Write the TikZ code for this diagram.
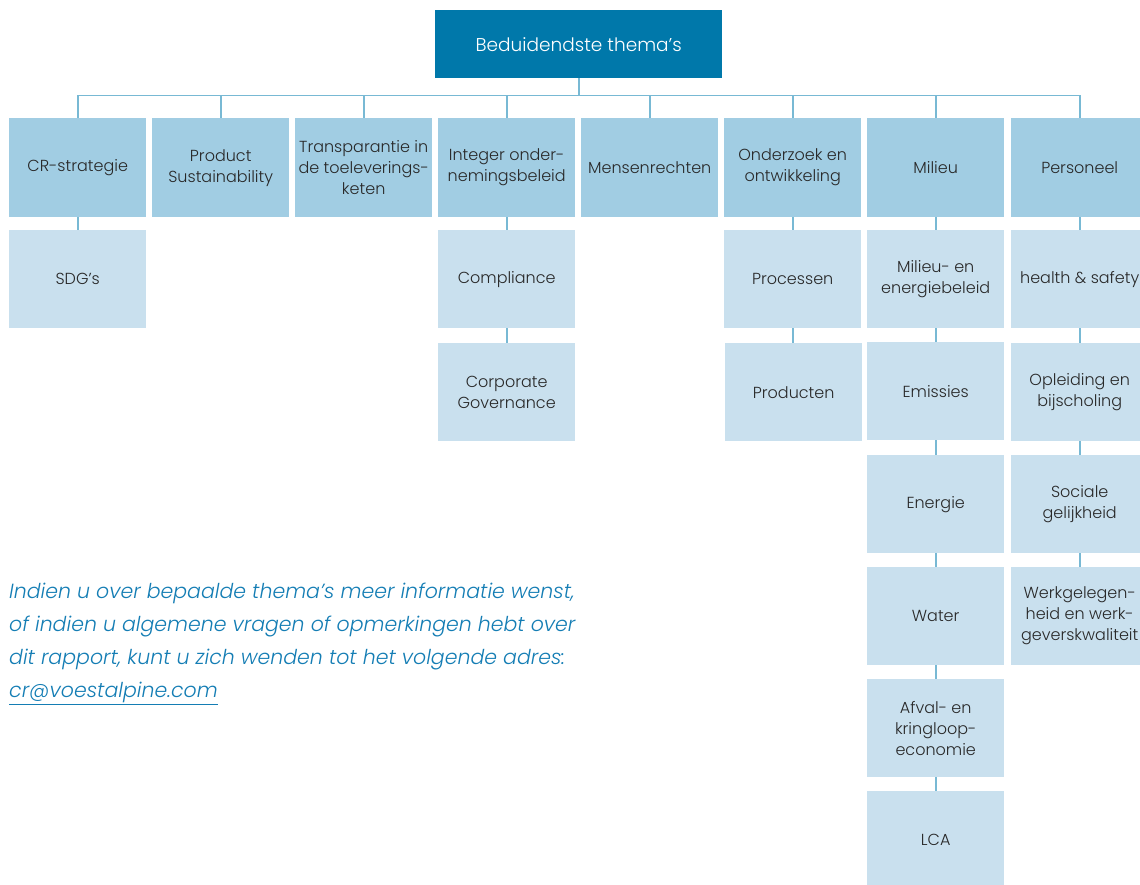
\documentclass[tikz,border=0pt]{standalone}
\usepackage{fontspec}
\setmainfont{Poppins}[UprightFont=* Light, ItalicFont=* Light Italic]
\definecolor{topblue}{RGB}{0,120,170}
\definecolor{lvla}{RGB}{161,205,227}
\definecolor{lvlb}{RGB}{201,224,238}
\definecolor{linec}{RGB}{120,185,212}
\definecolor{txt}{RGB}{40,40,40}
\definecolor{note}{RGB}{20,125,180}
\begin{document}
\begin{tikzpicture}[x=1pt,y=-1pt,
  topbox/.style={fill=topblue,text=white,minimum width=287pt,minimum height=68pt,inner sep=0pt,anchor=north west,font=\fontsize{18.5}{22}\selectfont},
  boxa/.style={fill=lvla,text=txt,minimum width=137pt,minimum height=99pt,inner sep=0pt,anchor=north west,align=center,font=\fontsize{16}{21}\selectfont},
  boxb/.style={fill=lvlb,text=txt,minimum width=137pt,minimum height=98pt,inner sep=0pt,anchor=north west,align=center,font=\fontsize{16}{21}\selectfont},
  conn/.style={draw=linec,line width=1.6pt}]
\useasboundingbox (0,0) rectangle (1140,884);
\node[topbox] (top) at (435,10) {Beduidendste thema’s};
% level 1
\node[boxa] (c1) at (9,118) {CR-strategie};
\node[boxa] (c2) at (152,118) {Product\\Sustainability};
\node[boxa] (c3) at (295,118) {Transparantie in\\de toeleverings-\\keten};
\node[boxa] (c4) at (438,118) {Integer onder-\\nemingsbeleid};
\node[boxa] (c5) at (581,118) {Mensenrechten};
\node[boxa] (c6) at (724,118) {Onderzoek en\\ontwikkeling};
\node[boxa] (c7) at (867,118) {Milieu};
\node[boxa] (c8) at (1011,118) {Personeel};
% level 2
\node[boxb] (s1) at (9,230) {SDG’s};
\node[boxb] (i1) at (438,230) {Compliance};
\node[boxb] (i2) at (438,343) {Corporate\\Governance};
\node[boxb] (o1) at (724,230) {Processen};
\node[boxb] (o2) at (725,343) {Producten};
\node[boxb] (m1) at (867,230) {Milieu- en\\energiebeleid};
\node[boxb] (m2) at (867,342) {Emissies};
\node[boxb] (m3) at (867,455) {Energie};
\node[boxb] (m4) at (867,567) {Water};
\node[boxb] (m5) at (867,679) {Afval- en\\kringloop-\\economie};
\node[boxb] (m6) at (867,791) {LCA};
\node[boxb] (p1) at (1011,230) {health \& safety};
\node[boxb] (p2) at (1011,343) {Opleiding en\\bijscholing};
\node[boxb] (p3) at (1011,455) {Sociale\\gelijkheid};
\node[boxb] (p4) at (1011,567) {Werkgelegen-\\heid en werk-\\geverskwaliteit};
% connectors
\foreach \c in {c1,c2,c3,c4,c5,c6,c7,c8}
  \draw[conn] (top.south) -- ++(0,17) -| (\c.north);
\draw[conn] (c1.south) -- (s1.north);
\draw[conn] (c4.south) -- (i1.north);
\draw[conn] (i1.south) -- (i2.north);
\draw[conn] (c6.south) -- (o1.north);
\draw[conn] (o1.south) -- (o1.south |- o2.north);
\draw[conn] (c7.south) -- (m1.north);
\draw[conn] (m1.south) -- (m2.north);
\draw[conn] (m2.south) -- (m3.north);
\draw[conn] (m3.south) -- (m4.north);
\draw[conn] (m4.south) -- (m5.north);
\draw[conn] (m5.south) -- (m6.north);
\draw[conn] (c8.south) -- (p1.north);
\draw[conn] (p1.south) -- (p2.north);
\draw[conn] (p2.south) -- (p3.north);
\draw[conn] (p3.south) -- (p4.north);
% note
\node[anchor=north west,inner sep=0pt,align=left,text=note,font=\fontsize{20.5}{33}\selectfont\itshape] (nt) at (9,583)
  {Indien u over bepaalde thema’s meer informatie wenst,\\
   of indien u algemene vragen of opmerkingen hebt over\\
   dit rapport, kunt u zich wenden tot het volgende adres:\\
   \underline{cr@voestalpine.com}};
\end{tikzpicture}
\end{document}
